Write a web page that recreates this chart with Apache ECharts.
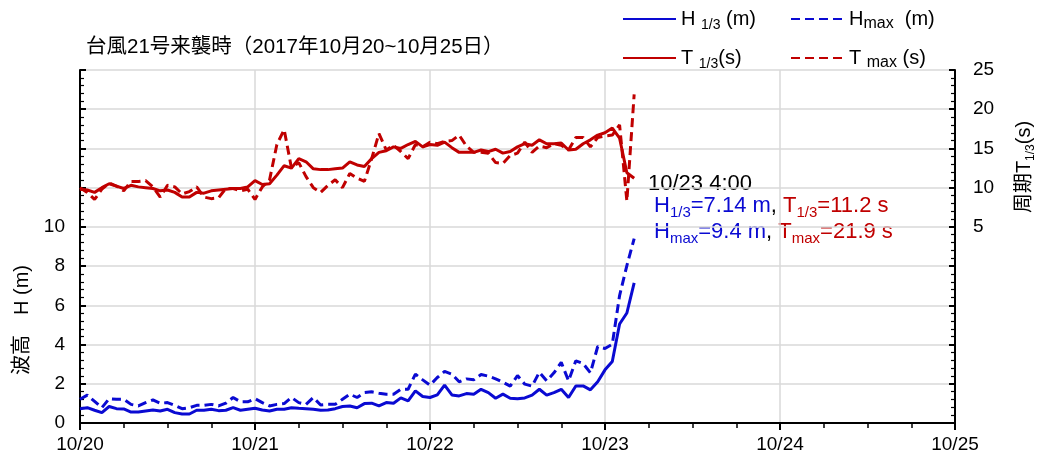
<!DOCTYPE html>
<html>
<head>
<meta charset="utf-8">
<script src="https://cdn.jsdelivr.net/npm/echarts@6/dist/echarts.min.js"></script>
<style>
	html, body { margin: 0; padding: 0; background: #fff; }
	#main { width: 1043px; height: 466px; }
</style>
</head>
<body>
<div id="main"></div>
<script>
// 1時間ごと 10/20 0:00 ～ 10/23 4:00
var dayLabels = ['10/20', '10/21', '10/22', '10/23', '10/24', '10/25']
var h13 = [0.73, 0.78, 0.65, 0.53, 0.84, 0.73, 0.72, 0.56, 0.56, 0.61, 0.66, 0.61, 0.70, 0.53, 0.46, 0.46,
	0.65, 0.65, 0.70, 0.63, 0.65, 0.78, 0.65, 0.70, 0.75, 0.66, 0.61, 0.70, 0.70, 0.78, 0.75, 0.73,
	0.70, 0.65, 0.66, 0.73, 0.84, 0.87, 0.78, 0.99, 1.01, 0.87, 1.04, 1.01, 1.28, 1.13, 1.64, 1.35,
	1.30, 1.43, 1.93, 1.43, 1.38, 1.50, 1.47, 1.72, 1.55, 1.26, 1.47, 1.26, 1.24, 1.28, 1.42, 1.72,
	1.42, 1.55, 1.72, 1.30, 1.89, 1.89, 1.69, 2.10, 2.71, 3.14, 5.05, 5.61, 7.14]
var hmax = [1.21, 1.42, 1.10, 0.78, 1.24, 1.21, 1.21, 0.95, 0.87, 1.04, 1.18, 1.01, 1.04, 0.90, 0.73, 0.78,
	0.90, 0.90, 0.95, 0.87, 1.01, 1.30, 1.08, 1.08, 1.24, 1.04, 0.87, 0.95, 0.99, 1.30, 1.04, 0.95,
	1.30, 0.92, 0.95, 0.95, 1.21, 1.47, 1.30, 1.55, 1.59, 1.52, 1.47, 1.47, 1.72, 1.72, 2.49, 2.20,
	1.93, 2.32, 2.63, 2.49, 2.10, 2.25, 2.20, 2.47, 2.39, 2.25, 2.08, 1.88, 2.42, 1.98, 1.88, 2.59,
	2.15, 2.56, 3.09, 2.15, 3.17, 3.03, 2.56, 3.90, 3.80, 4.02, 6.50, 8.03, 9.40]
var t13 = [9.8, 9.7, 9.4, 10.0, 10.5, 10.2, 9.9, 10.3, 10.1, 10.0, 9.9, 9.6, 9.7, 9.4, 8.8, 8.8,
	9.4, 9.3, 9.6, 9.7, 9.8, 9.9, 9.9, 10.1, 10.9, 10.4, 10.5, 11.6, 12.8, 12.5, 13.7, 13.3,
	12.4, 12.3, 12.3, 12.4, 12.5, 13.3, 12.9, 12.7, 13.7, 14.5, 14.7, 15.2, 15.0, 15.5, 15.9, 15.2,
	15.5, 15.4, 15.8, 15.1, 14.5, 14.5, 14.5, 14.8, 14.6, 14.9, 14.4, 14.6, 15.2, 15.6, 15.4, 16.1,
	15.6, 15.6, 15.7, 14.8, 14.9, 15.6, 16.1, 16.7, 17.0, 17.6, 16.3, 11.9, 11.2]
var tmax = [10.0, 9.4, 8.5, 9.8, 10.6, 10.2, 9.6, 10.8, 10.8, 10.9, 10.1, 8.8, 10.3, 10.1, 9.2, 9.5,
	10.1, 8.8, 8.6, 8.7, 9.9, 9.9, 9.6, 9.8, 8.5, 10.1, 11.0, 15.5, 17.4, 12.5, 13.2, 11.4,
	10.0, 9.4, 10.3, 11.0, 10.0, 11.8, 11.2, 10.8, 13.7, 16.9, 14.8, 15.4, 14.6, 13.7, 15.5, 15.2,
	15.8, 15.6, 15.9, 16.0, 16.7, 15.3, 14.5, 14.5, 14.4, 13.2, 13.1, 14.1, 14.4, 15.8, 14.5, 15.3,
	15.1, 15.6, 15.4, 14.8, 16.4, 16.4, 15.2, 16.4, 16.6, 16.7, 18.0, 8.3, 21.9]

var FONT = "'Liberation Sans', 'Noto Sans CJK JP', sans-serif"
var BLUE = '#0a0ad2'
var RED = '#c00000'

function pairs (arr) {
	return arr.map(function (v, i) { return [i, v] })
}

var subRich = {
	n: { fontSize: 20, fontFamily: FONT, color: '#000', lineHeight: 26 },
	s: { fontSize: 14, fontFamily: FONT, color: '#000', lineHeight: 14, verticalAlign: 'bottom' },
	m: { fontSize: 16, fontFamily: FONT, color: '#000', lineHeight: 20, verticalAlign: 'bottom' }
}
var legendNames = {
	'H1/3': '{n|H }{s|1/3}{n| (m)}',
	'Hmax': '{n|H}{m|max}{n|  (m)}',
	'T1/3': '{n|T }{s|1/3}{n|(s)}',
	'Tmax': '{n|T }{m|max}{n| (s)}'
}
function legendAt (name, left, top) {
	return {
		data: [name],
		left: left,
		top: top,
		itemWidth: 53,
		itemHeight: 14,
		itemGap: 0,
		padding: 0,
		itemStyle: { opacity: 0 },
		formatter: function (n) { return legendNames[n] },
		textStyle: { rich: subRich }
	}
}

var annRich = {
	k: { fontSize: 22, fontFamily: FONT, fill: '#000', lineHeight: 28 },
	b: { fontSize: 22, fontFamily: FONT, fill: BLUE, lineHeight: 28 },
	bs: { fontSize: 15, fontFamily: FONT, fill: BLUE, lineHeight: 15, verticalAlign: 'bottom' },
	r: { fontSize: 22, fontFamily: FONT, fill: RED, lineHeight: 28 },
	rs: { fontSize: 15, fontFamily: FONT, fill: RED, lineHeight: 15, verticalAlign: 'bottom' }
}

var option = {
	animation: false,
	backgroundColor: '#fff',
	textStyle: { fontFamily: FONT },
	grid: { left: 80, right: 88, top: 70, bottom: 43 },
	legend: [
		legendAt('H1/3', 622, 9),
		legendAt('Hmax', 790, 9),
		legendAt('T1/3', 622, 48),
		legendAt('Tmax', 790, 48)
	],
	xAxis: {
		type: 'value',
		min: 0,
		max: 120,
		interval: 24,
		axisLine: { onZero: false, lineStyle: { color: '#000', width: 2 } },
		axisTick: { show: true, length: 7, lineStyle: { color: '#000', width: 2 } },
		minorTick: { show: true, splitNumber: 4, length: 5, lineStyle: { color: '#000', width: 1.5 } },
		axisLabel: {
			color: '#000', fontSize: 19, fontFamily: FONT, margin: 12,
			formatter: function (v) { return dayLabels[v / 24] }
		},
		splitLine: { show: true, lineStyle: { color: '#d9d9d9', width: 1.5 } }
	},
	yAxis: [
		{
			type: 'value',
			min: 0,
			max: 18,
			interval: 2,
			axisLine: { show: true, lineStyle: { color: '#000', width: 2 } },
			axisTick: { show: true, inside: true, length: 6, lineStyle: { color: '#000', width: 2 } },
			minorTick: { show: true, splitNumber: 5, length: 4, lineStyle: { color: '#000', width: 1.2 } },
			axisLabel: {
				color: '#000', fontSize: 19, fontFamily: FONT, margin: 15,
				formatter: function (v) { return v <= 10 ? v : '' }
			},
			splitLine: { show: true, lineStyle: { color: '#d9d9d9', width: 1.5 } }
		},
		{
			type: 'value',
			min: -20,
			max: 25,
			interval: 5,
			position: 'right',
			axisLine: { show: true, lineStyle: { color: '#000', width: 2 } },
			axisTick: { show: true, inside: true, length: 6, lineStyle: { color: '#000', width: 2 } },
			minorTick: { show: true, splitNumber: 5, length: 4, lineStyle: { color: '#000', width: 1.2 } },
			axisLabel: {
				color: '#000', fontSize: 19, fontFamily: FONT, margin: 18,
				formatter: function (v) { return v >= 5 ? v : '' }
			},
			splitLine: { show: false }
		}
	],
	series: [
		{
			name: 'H1/3', type: 'line', yAxisIndex: 0, symbol: 'none', data: pairs(h13),
			lineStyle: { color: BLUE, width: 3 }, itemStyle: { color: BLUE }, z: 4
		},
		{
			name: 'Hmax', type: 'line', yAxisIndex: 0, symbol: 'none', data: pairs(hmax),
			lineStyle: { color: BLUE, width: 3, type: [9, 5] }, itemStyle: { color: BLUE }, z: 3
		},
		{
			name: 'T1/3', type: 'line', yAxisIndex: 1, symbol: 'none', data: pairs(t13),
			lineStyle: { color: RED, width: 3 }, itemStyle: { color: RED }, z: 4
		},
		{
			name: 'Tmax', type: 'line', yAxisIndex: 1, symbol: 'none', data: pairs(tmax),
			lineStyle: { color: RED, width: 3, type: [9, 5] }, itemStyle: { color: RED }, z: 3
		}
	],
	graphic: [
		{
			type: 'text', left: 86, top: 37,
			style: { text: '台風21号来襲時（2017年10月20~10月25日）', fontSize: 20.5, fontFamily: FONT, fill: '#000' }
		},
		{
			type: 'text', x: 22, y: 320, rotation: Math.PI / 2,
			style: { text: '波高　H (m)', fontSize: 20, fontFamily: FONT, fill: '#000', align: 'center', verticalAlign: 'middle' }
		},
		{
			type: 'text', x: 1024, y: 167, rotation: Math.PI / 2,
			style: {
				text: '{k|周期T}{s|1/3}{k|(s)}',
				align: 'center', verticalAlign: 'middle',
				rich: {
					k: { fontSize: 20, fontFamily: FONT, fill: '#000', lineHeight: 26 },
					s: { fontSize: 12, fontFamily: FONT, fill: '#000', lineHeight: 13, verticalAlign: 'bottom' }
				}
			}
		},
		{
			type: 'text', left: 648, top: 173,
			style: { text: '10/23 4:00', fontSize: 22, fontFamily: FONT, fill: '#000' }
		},
		{
			type: 'text', left: 654, top: 195,
			style: { text: '{b|H}{bs|1/3}{b|=7.14 m}{k|, }{r|T}{rs|1/3}{r|=11.2 s}', rich: annRich }
		},
		{
			type: 'text', left: 654, top: 221,
			style: { text: '{b|H}{bs|max}{b|=9.4 m}{k|, }{r|T}{rs|max}{r|=21.9 s}', rich: annRich }
		}
	]
}

var myChart = echarts.init(document.getElementById('main'))
myChart.setOption(option)
</script>
</body>
</html>
